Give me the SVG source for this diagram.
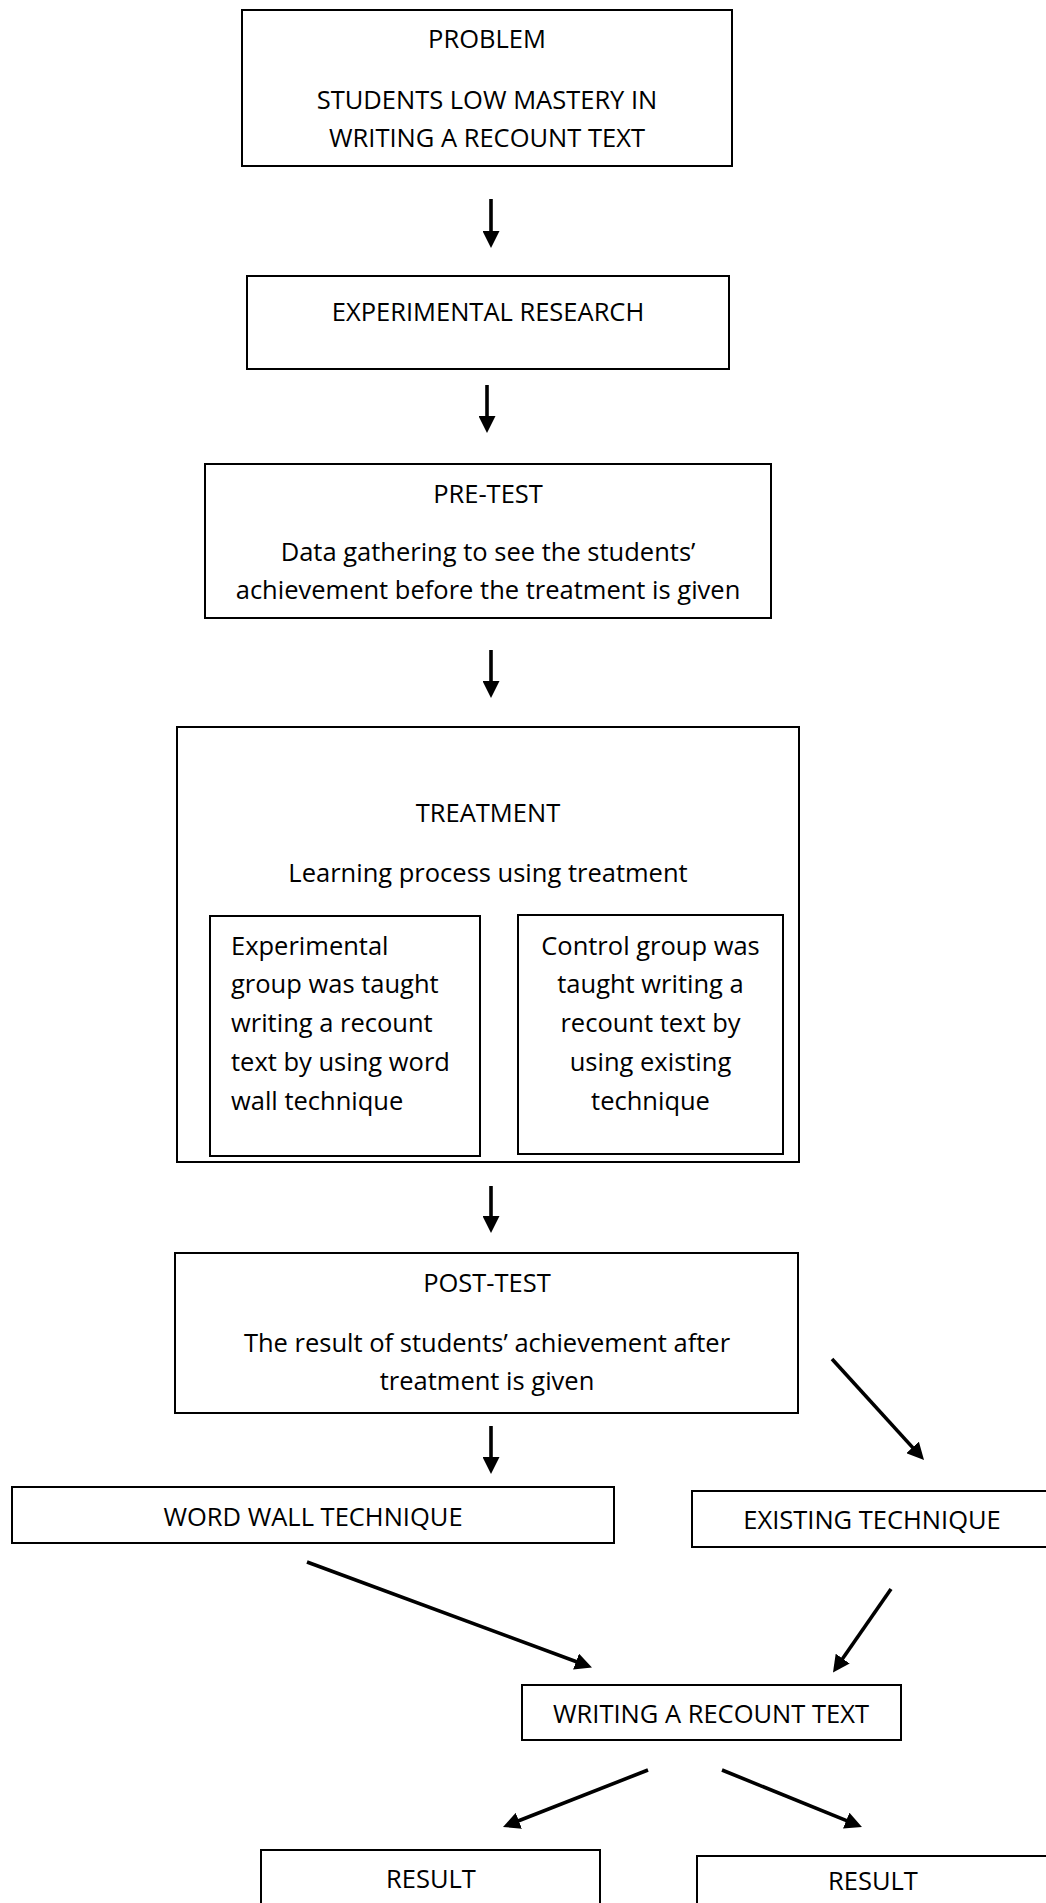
<svg xmlns="http://www.w3.org/2000/svg" width="1046" height="1903" viewBox="0 0 1046 1903">
<style>
  .box{fill:none;stroke:#000;stroke-width:2}
  .t{font-family:"Open Sans","Liberation Sans",sans-serif;font-size:25.5px;fill:#000}
  .c{text-anchor:middle}
  .arr{stroke:#000;stroke-width:3.6;fill:none;marker-end:url(#ah)}
</style>
<defs>
  <marker id="ah" viewBox="0 0 17 17" refX="7" refY="8.5" markerWidth="17" markerHeight="17" markerUnits="userSpaceOnUse" orient="auto">
    <path d="M0,0 L17,8.5 L0,17 Z" fill="#000"/>
  </marker>
</defs>
<rect width="1046" height="1903" fill="#fff"/>
<g id="problem">
  <rect class="box" x="242" y="10" width="490" height="156"/>
  <text class="t c" x="487" y="48">PROBLEM</text>
  <text class="t c" x="487" y="109">STUDENTS LOW MASTERY IN</text>
  <text class="t c" x="487" y="147">WRITING A RECOUNT TEXT</text>
</g>
<g id="research">
  <rect class="box" x="247" y="276" width="482" height="93"/>
  <text class="t c" x="488" y="321">EXPERIMENTAL RESEARCH</text>
</g>
<g id="pretest">
  <rect class="box" x="205" y="464" width="566" height="154"/>
  <text class="t c" x="488" y="503">PRE-TEST</text>
  <text class="t c" x="488" y="561">Data gathering to see the students’</text>
  <text class="t c" x="488" y="599">achievement before the treatment is given</text>
</g>
<g id="treatment">
  <rect class="box" x="177" y="727" width="622" height="435"/>
  <text class="t c" x="488" y="822">TREATMENT</text>
  <text class="t c" x="488" y="882">Learning process using treatment</text>
</g>
<g id="experimental-group">
  <rect class="box" x="210" y="916" width="270" height="240"/>
  <text class="t" x="231" y="955">Experimental</text>
  <text class="t" x="231" y="993">group was taught</text>
  <text class="t" x="231" y="1032">writing a recount</text>
  <text class="t" x="231" y="1071">text by using word</text>
  <text class="t" x="231" y="1110">wall technique</text>
</g>
<g id="control-group">
  <rect class="box" x="518" y="915" width="265" height="239"/>
  <text class="t c" x="650.5" y="955">Control group was</text>
  <text class="t c" x="650.5" y="993">taught writing a</text>
  <text class="t c" x="650.5" y="1032">recount text by</text>
  <text class="t c" x="650.5" y="1071">using existing</text>
  <text class="t c" x="650.5" y="1110">technique</text>
</g>
<g id="posttest">
  <rect class="box" x="175" y="1253" width="623" height="160"/>
  <text class="t c" x="487" y="1292">POST-TEST</text>
  <text class="t c" x="487" y="1352">The result of students’ achievement after</text>
  <text class="t c" x="487" y="1390">treatment is given</text>
</g>
<g id="word-wall">
  <rect class="box" x="12" y="1487" width="602" height="56"/>
  <text class="t c" x="313" y="1526">WORD WALL TECHNIQUE</text>
</g>
<g id="existing">
  <rect class="box" x="692" y="1491" width="360" height="56"/>
  <text class="t c" x="872" y="1529">EXISTING TECHNIQUE</text>
</g>
<g id="writing">
  <rect class="box" x="522" y="1685" width="379" height="55"/>
  <text class="t c" x="711" y="1723">WRITING A RECOUNT TEXT</text>
</g>
<g id="result-1">
  <rect class="box" x="261" y="1850" width="339" height="70"/>
  <text class="t c" x="431" y="1888">RESULT</text>
</g>
<g id="result-2">
  <rect class="box" x="697" y="1856" width="360" height="70"/>
  <text class="t c" x="873" y="1890">RESULT</text>
</g>
<g id="connectors">
  <line class="arr" x1="491" y1="199" x2="491" y2="238"/>
  <line class="arr" x1="487" y1="385" x2="487" y2="423"/>
  <line class="arr" x1="491" y1="650" x2="491" y2="688"/>
  <line class="arr" x1="491" y1="1186" x2="491" y2="1223"/>
  <line class="arr" x1="491" y1="1426" x2="491" y2="1464"/>
  <line class="arr" x1="832" y1="1359" x2="917.3" y2="1452.6"/>
  <line class="arr" x1="307" y1="1562" x2="582.6" y2="1664"/>
  <line class="arr" x1="891" y1="1589" x2="838.7" y2="1664.3"/>
  <line class="arr" x1="648" y1="1770" x2="512.3" y2="1823.3"/>
  <line class="arr" x1="722" y1="1770" x2="852.7" y2="1823.2"/>
</g>
</svg>
